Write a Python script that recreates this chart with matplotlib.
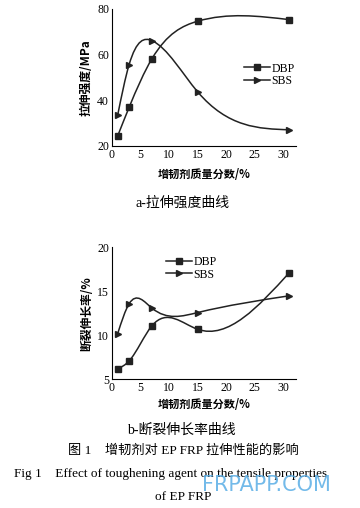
# 增韧剂对 EP FRP 拉伸性能的影响

import numpy as np
import matplotlib.pyplot as plt
from matplotlib.path import Path
from matplotlib.patches import PathPatch

plt.rcParams['font.family'] = ['Liberation Serif', 'Noto Sans CJK SC']

x = [1, 3, 7, 15, 31]
dbp_strength = [24.3, 36.8, 58.1, 74.5, 75.2]
sbs_strength = [33.4, 55.5, 66.0, 43.6, 27.0]
dbp_elong = [6.2, 7.1, 11.1, 10.7, 17.1]
sbs_elong = [10.2, 13.6, 13.1, 12.6, 14.5]
xticks = [0, 5, 10, 15, 20, 25, 30]

cjk = ['Noto Sans CJK SC', 'DejaVu Sans']
ser = ['Liberation Serif', 'Noto Sans CJK SC']


def spline_path(xs, ys):
    # натуральный кубический сплайн, отрезки записаны как кривые Безье
    xs = np.asarray(xs, float)
    ys = np.asarray(ys, float)
    n = len(xs)
    h = np.diff(xs)
    A = np.zeros((n, n))
    b = np.zeros(n)
    A[0, 0] = A[-1, -1] = 1
    for i in range(1, n - 1):
        A[i, i - 1] = h[i - 1]
        A[i, i] = 2 * (h[i - 1] + h[i])
        A[i, i + 1] = h[i]
        b[i] = 6 * ((ys[i + 1] - ys[i]) / h[i] - (ys[i] - ys[i - 1]) / h[i - 1])
    M = np.linalg.solve(A, b)
    m = np.zeros(n)
    for i in range(n - 1):
        m[i] = (ys[i + 1] - ys[i]) / h[i] - h[i] * (2 * M[i] + M[i + 1]) / 6
    m[-1] = (ys[-1] - ys[-2]) / h[-1] + h[-1] * (M[-2] + 2 * M[-1]) / 6
    verts = [(xs[0], ys[0])]
    codes = [Path.MOVETO]
    for i in range(n - 1):
        d = h[i] / 3
        verts += [(xs[i] + d, ys[i] + d * m[i]),
                  (xs[i + 1] - d, ys[i + 1] - d * m[i + 1]),
                  (xs[i + 1], ys[i + 1])]
        codes += [Path.CURVE4] * 3
    return Path(verts, codes)


def draw(ax, ys, marker, label):
    ax.add_patch(PathPatch(spline_path(x, ys), fill=False, lw=1.1,
                           edgecolor='#222222'))
    ax.plot(x, ys, linestyle='none', marker=marker, color='#222222',
            markersize=5)
    ax.plot([], [], '-', marker=marker, color='#222222', markersize=5,
            lw=1.1, label=label)


def style(ax, ylim, yticks, ylabel, xpad):
    ax.set_xlim(0, 32.2)
    ax.set_ylim(*ylim)
    ax.set_xticks(xticks)
    ax.set_yticks(yticks)
    ax.spines['top'].set_visible(False)
    ax.spines['right'].set_visible(False)
    ax.tick_params(length=0, labelsize=8.5, pad=2)
    ax.set_ylabel(ylabel, family=cjk, fontsize=8.5, fontweight='bold',
                  labelpad=3)
    ax.set_xlabel('增韧剂质量分数/%', family=cjk, fontsize=8,
                  fontweight='bold', labelpad=xpad)


fig = plt.figure(figsize=(3.6, 5.08), dpi=100)

leg_kw = dict(loc='upper left', frameon=False, fontsize=8.5,
              handlelength=2.2, handletextpad=0.15, labelspacing=0.05,
              borderpad=0)

ax1 = fig.add_axes([0.311, 0.713, 0.511, 0.270])
draw(ax1, dbp_strength, 's', 'DBP')
draw(ax1, sbs_strength, '>', 'SBS')
style(ax1, (20, 80), [20, 40, 60, 80], '拉伸强度/MPa', 5)
ax1.legend(bbox_to_anchor=(0.685, 0.65), **leg_kw)

ax2 = fig.add_axes([0.311, 0.253, 0.511, 0.260])
draw(ax2, dbp_elong, 's', 'DBP')
draw(ax2, sbs_elong, '>', 'SBS')
style(ax2, (5, 20), [5, 10, 15, 20], '断裂伸长率/%', 3)
ax2.legend(bbox_to_anchor=(0.26, 0.98), **leg_kw)

fig.text(0.508, 1 - 203 / 508, 'a-拉伸强度曲线', ha='center', va='center',
         family=ser, fontsize=10)
fig.text(0.505, 1 - 430 / 508, 'b-断裂伸长率曲线', ha='center', va='center',
         family=ser, fontsize=10)
fig.text(0.508, 1 - 451 / 508, '图 1    增韧剂对 EP FRP 拉伸性能的影响',
         ha='center', va='center', family=ser, fontsize=9.5)
fig.text(0.04, 1 - 474 / 508,
         'Fig 1    Effect of toughening agent on the tensile properties',
         ha='left', va='center', family=ser, fontsize=9.5)
fig.text(0.508, 1 - 497 / 508, 'of EP FRP', ha='center', va='center',
         family=ser, fontsize=9.5)
fig.text(0.56, 1 - 485 / 508, 'FRPAPP.COM', ha='left', va='center',
         family='DejaVu Sans', fontsize=15, color='#5aaee6', alpha=0.85)

plt.savefig('out.png', dpi=100)
